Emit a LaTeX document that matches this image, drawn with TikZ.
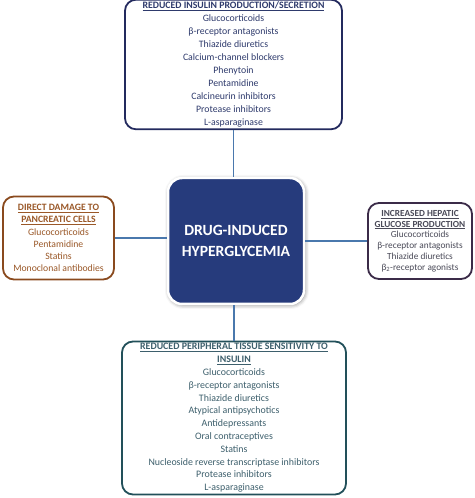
\documentclass[tikz,border=0pt]{standalone}
\usepackage{fontspec}
\setmainfont{Carlito}
\usepackage{xcolor}
\usetikzlibrary{positioning,shadows.blur}
\definecolor{navyline}{HTML}{232A5E}
\definecolor{navytext}{HTML}{2E3A6C}
\definecolor{brownline}{HTML}{8A4A1E}
\definecolor{browntext}{HTML}{9A5828}
\definecolor{plumline}{HTML}{3B2B48}
\definecolor{plumtext}{HTML}{4A4A58}
\definecolor{tealline}{HTML}{22505A}
\definecolor{tealtext}{HTML}{3D5F6C}
\definecolor{corefill}{HTML}{263B7C}
\definecolor{linkblue}{HTML}{4A78AD}

\begin{document}
\begin{tikzpicture}[
    x=1pt, y=1pt,
    mech/.style={draw, line width=1.8pt, fill=white, rounded corners=11pt, align=center, inner sep=2pt,
        font=\fontsize{9.8}{13}\selectfont},
    core/.style={draw=white, line width=2.5pt, fill=corefill, rounded corners=14pt, align=center,
        text=white, minimum width=136pt, minimum height=126pt,
        font=\fontsize{15.6}{21}\selectfont\bfseries,
        blur shadow={shadow xshift=1pt, shadow yshift=-1pt, shadow blur radius=4pt, shadow opacity=50}},
    link/.style={draw=linkblue, line width=1.5pt}
]
    \useasboundingbox (0,0) rectangle (474,498);

    % Central node
    \node[core] (hyper) at (236,257) {DRUG-INDUCED\\HYPERGLYCEMIA};

    % Top: insulin secretion
    \node[mech, draw=navyline, text=navytext, minimum width=217pt, minimum height=127pt] (secr) at (233.5,433.5)
        {\textbf{\underline{REDUCED INSULIN PRODUCTION/SECRETION}}\\
         Glucocorticoids\\ β-receptor antagonists\\ Thiazide diuretics\\ Calcium-channel blockers\\
         Phenytoin\\ Pentamidine\\ Calcineurin inhibitors\\ Protease inhibitors\\ L-asparaginase};

    % Left: pancreatic damage
    \node[mech, draw=brownline, text=browntext, minimum width=111pt, minimum height=83pt,
        font=\fontsize{9.7}{12.2}\selectfont] (panc) at (58.5,260)
        {\textbf{\underline{DIRECT DAMAGE TO}}\\ \textbf{\underline{PANCREATIC CELLS}}\\
         Glucocorticoids\\ Pentamidine\\ Statins\\ Monoclonal antibodies};

    % Right: hepatic glucose
    \node[mech, draw=plumline, text=plumtext, minimum width=104pt, minimum height=76pt,
        font=\fontsize{9.3}{10.8}\selectfont] (hepa) at (420,257)
        {\textbf{\underline{INCREASED HEPATIC}}\\ \textbf{\underline{GLUCOSE PRODUCTION}}\\
         Glucocorticoids\\ β-receptor antagonists\\ Thiazide diuretics\\ β\textsubscript{2}-receptor agonists};

    % Bottom: peripheral sensitivity
    \node[mech, draw=tealline, text=tealtext, minimum width=224pt, minimum height=152pt,
        font=\fontsize{9.9}{12.8}\selectfont] (peri) at (234,80)
        {\textbf{\underline{REDUCED PERIPHERAL TISSUE SENSITIVITY TO}}\\ \textbf{\underline{INSULIN}}\\
         Glucocorticoids\\ β-receptor antagonists\\ Thiazide diuretics\\ Atypical antipsychotics\\
         Antidepressants\\ Oral contraceptives\\ Statins\\ Nucleoside reverse transcriptase inhibitors\\
         Protease inhibitors\\ L-asparaginase};

    % Connectors
    \draw[link] (secr.south) -- (secr.south |- hyper.north);
    \draw[link] (peri.north) -- (peri.north |- hyper.south);
    \draw[link] (panc.east) -- (panc.east -| hyper.west);
    \draw[link] (hepa.west) -- (hepa.west -| hyper.east);
\end{tikzpicture}
\end{document}
